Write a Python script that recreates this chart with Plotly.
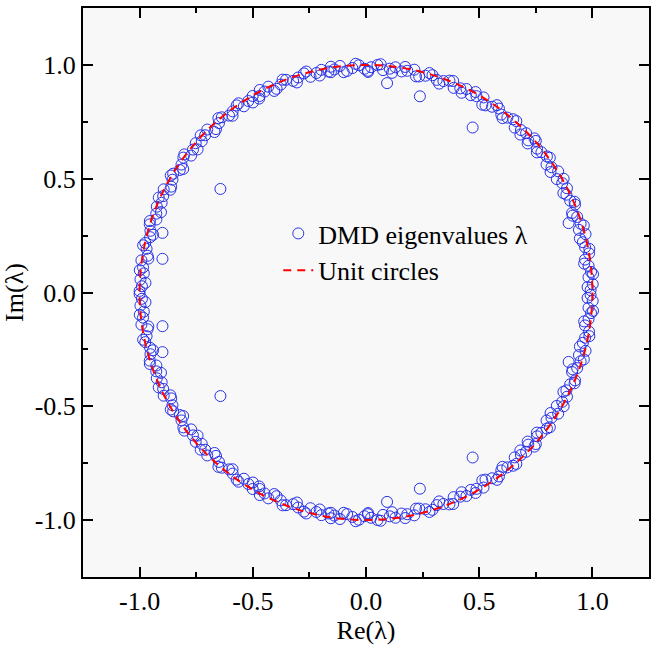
import plotly.graph_objects as go
import numpy as np

# Eigenvalues lying on/near the unit circle (upper half; lower half is the complex conjugate)
# (angle in degrees, modulus)
ring_upper = [
    (0.6, 0.992), (2.1, 1.002), (3.9, 0.985), (5.2, 0.998), (6.8, 0.990), (8.5, 0.978),
    (9.9, 1.000), (11.6, 0.988), (13.0, 0.983), (14.8, 1.003), (16.3, 0.980), (17.7, 0.995),
    (19.6, 0.990), (21.0, 0.975), (22.7, 1.001), (24.1, 0.988), (25.9, 0.984), (27.3, 0.999),
    (29.0, 0.991), (30.6, 0.979), (32.1, 1.002), (33.9, 0.987), (35.2, 0.976), (36.8, 0.998),
    (38.5, 0.990), (39.9, 0.985), (41.6, 1.003), (43.0, 0.980), (44.7, 0.995), (46.2, 0.989),
    (47.8, 0.978), (49.5, 1.001), (50.9, 0.990), (52.6, 0.984), (54.0, 0.999), (55.7, 0.988),
    (57.3, 0.977), (58.8, 1.002), (60.5, 0.991), (61.9, 0.983), (63.6, 0.998), (65.1, 0.989),
    (66.7, 0.979), (68.4, 1.001), (69.8, 0.990), (71.5, 0.985), (72.9, 0.999), (74.6, 0.988),
    (76.1, 0.978), (77.7, 1.002), (79.4, 0.991), (80.8, 0.984), (82.5, 0.998), (83.9, 0.989),
    (85.6, 0.980), (87.1, 1.001), (88.7, 0.990), (90.4, 0.983), (91.8, 0.999), (93.5, 0.988),
    (94.9, 0.977), (96.6, 1.002), (98.1, 0.990), (99.7, 0.985), (101.4, 0.998), (102.8, 0.989),
    (104.5, 0.979), (105.9, 1.001), (107.6, 0.991), (109.1, 0.984), (110.7, 0.999), (112.4, 0.988),
    (113.8, 0.978), (115.5, 1.002), (116.9, 0.990), (118.6, 0.983), (120.1, 0.998), (121.7, 0.989),
    (123.4, 0.980), (124.8, 1.001), (126.5, 0.990), (127.9, 0.985), (129.6, 0.999), (131.1, 0.988),
    (132.7, 0.977), (134.4, 1.002), (135.8, 0.991), (137.5, 0.984), (138.9, 0.998), (140.6, 0.989),
    (142.1, 0.979), (143.7, 1.001), (145.4, 0.990), (146.8, 0.983), (148.5, 0.999), (149.9, 0.988),
    (151.6, 0.978), (153.1, 1.002), (154.7, 0.991), (156.4, 0.985), (157.8, 0.998), (159.5, 0.989),
    (160.9, 0.980), (162.6, 1.001), (164.1, 0.990), (165.7, 0.984), (167.4, 0.999), (168.8, 0.988),
    (170.5, 0.978), (171.9, 1.002), (173.6, 0.991), (175.1, 0.985), (176.7, 0.998), (178.4, 0.990),
    (179.6, 1.000),
]

# Further ring eigenvalues lying between the ones above (densely packed band)
ring_upper_b = [
    (1.4, 0.979), (4.6, 1.006), (7.5, 0.972), (11.0, 1.005), (14.1, 0.974), (17.0, 1.006),
    (20.3, 0.973), (23.4, 1.004), (26.6, 0.975), (29.8, 1.006), (33.0, 0.972), (36.1, 1.005),
    (39.2, 0.974), (42.3, 1.006), (45.5, 0.973), (48.6, 1.004), (51.8, 0.975), (54.9, 1.006),
    (58.1, 0.972), (61.2, 1.005), (64.3, 0.974), (67.5, 1.006), (70.6, 0.973), (73.8, 1.004),
    (76.9, 0.975), (80.1, 1.006), (83.2, 0.972), (86.3, 1.005), (89.5, 0.974), (92.6, 1.006),
    (95.8, 0.973), (98.9, 1.004), (102.1, 0.975), (105.2, 1.006), (108.3, 0.972), (111.5, 1.005),
    (114.6, 0.974), (117.8, 1.006), (120.9, 0.973), (124.1, 1.004), (127.2, 0.975), (130.4, 1.006),
    (133.5, 0.972), (136.6, 1.005), (139.8, 0.974), (142.9, 1.006), (146.1, 0.973), (149.2, 1.004),
    (152.4, 0.975), (155.5, 1.006), (158.7, 0.972), (161.8, 1.005), (164.9, 0.974), (168.1, 1.006),
    (171.2, 0.973), (174.4, 1.004), (177.5, 0.975),
]

# Eigenvalues clearly off the circle (upper half; conjugates mirrored)
inner_re = [0.093, 0.238, 0.471, -0.643, -0.899, -0.899, 0.714, 0.895, -0.155, -0.472, 0.009]
inner_im = [0.920, 0.862, 0.725, 0.455, 0.262, 0.148, 0.655, 0.305, 0.968, 0.852, 0.969]

tick_vals = [-1.0, -0.5, 0.0, 0.5, 1.0]
tick_text = ["-1.0", "-0.5", "0.0", "0.5", "1.0"]

pts = ring_upper + ring_upper_b
ang = np.radians([a for a, r in pts])
mod = np.array([r for a, r in pts])
re_ring = mod * np.cos(ang)
im_ring = mod * np.sin(ang)

re_all = np.concatenate([re_ring, re_ring, inner_re, inner_re])
im_all = np.concatenate([im_ring, -im_ring, inner_im, -np.array(inner_im)])

FONT = "Liberation Serif, Times New Roman, serif"
BLUE = "rgb(40,50,230)"

fig = go.Figure()
fig.add_trace(go.Scatter(
    x=re_all, y=im_all, mode="markers", name="DMD eigenvalues \u03bb",
    marker=dict(symbol="circle-open", size=11, color=BLUE, line=dict(width=1, color=BLUE)),
))
fig.add_trace(go.Scatter(
    x=[None], y=[None], mode="lines", name="Unit circles",
    line=dict(color="red", width=2, dash="8px,6px"),
))
fig.add_shape(type="circle", xref="x", yref="y", x0=-1, y0=-1, x1=1, y1=1,
              line=dict(color="red", width=2, dash="8px,6px"), layer="above")

axis_common = dict(
    range=[-1.25, 1.25], tickvals=tick_vals, ticktext=tick_text,
    ticks="inside", ticklen=10, tickwidth=2, tickcolor="black",
    showline=True, linewidth=2, linecolor="black", mirror="ticks",
    showgrid=False, zeroline=False,
    minor=dict(ticks="inside", ticklen=5, tickwidth=2, tickcolor="black", dtick=0.25, showgrid=False),
    tickfont=dict(family=FONT, size=26, color="black"),
)

fig.update_layout(
    width=651, height=653,
    margin=dict(l=83, r=0, t=8, b=76),
    paper_bgcolor="white", plot_bgcolor="#f8f8f8",
    xaxis=dict(**axis_common, title=dict(text="Re(\u03bb)", font=dict(family=FONT, size=26, color="black"), standoff=6)),
    yaxis=dict(**axis_common, title=dict(text="Im(\u03bb)", font=dict(family=FONT, size=26, color="black"), standoff=6)),
    legend=dict(x=0.345, y=0.645, xanchor="left", yanchor="top", bgcolor="rgba(0,0,0,0)",
                font=dict(family=FONT, size=26, color="black"), itemsizing="trace"),
    showlegend=True,
)

fig.write_html("out.html")
